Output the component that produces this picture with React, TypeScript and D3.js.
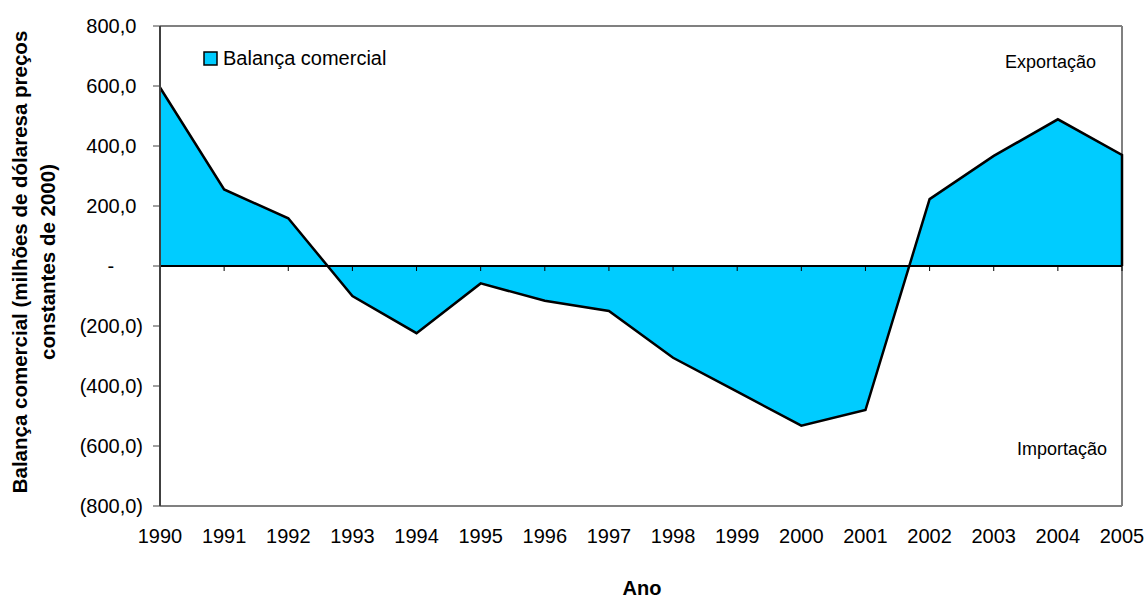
import React from "react";
import * as d3 from "d3";

const years = [1990, 1991, 1992, 1993, 1994, 1995, 1996, 1997, 1998, 1999, 2000, 2001, 2002, 2003, 2004, 2005];
const balance = [595, 255, 159, -100, -224, -58, -116, -150, -306, -419, -532, -480, 223, 367, 489, 370];
const yTicks = [800, 600, 400, 200, 0, -200, -400, -600, -800];
const seriesName = "Balança comercial";
const yTitle1 = "Balança comercial (milhões de dólaresa preços";
const yTitle2 = "constantes de 2000)";
const xTitle = "Ano";
const noteTop = "Exportação";
const noteBottom = "Importação";

const W = 1148, H = 599;
const L = 160, R = 1122, T = 26, B = 506;
const FS = 20;

function fmt(v: number): { s: string; pad: number } {
  if (v === 0) return { s: "-", pad: FS * (0.333 + 2 * 0.556) };
  const s = Math.abs(v).toFixed(1).replace(".", ",");
  return v < 0 ? { s: `(${s})`, pad: 0 } : { s, pad: FS * 0.333 };
}

export default function App() {
  const x = d3.scaleLinear().domain([years[0], years[years.length - 1]]).range([L, R]);
  const y = d3.scaleLinear().domain([-800, 800]).range([B, T]);
  const pts = years.map((yr, i) => [yr, balance[i]] as [number, number]);
  const area = d3.area<[number, number]>().x(d => x(d[0])).y0(y(0)).y1(d => y(d[1]))(pts) || "";
  const line = d3.line<[number, number]>().x(d => x(d[0])).y(d => y(d[1]))(pts) || "";
  const font = "Arial, 'Liberation Sans', sans-serif";
  const y0 = y(0);
  return (
    <svg width={W} height={H} style={{ position: "absolute", left: 0, top: 0 }} fontFamily={font}>
      <rect x={0} y={0} width={W} height={H} fill="#fff" />
      <line x1={L} y1={T} x2={R} y2={T} stroke="#808080" strokeWidth={2} />
      <line x1={R} y1={T} x2={R} y2={B} stroke="#808080" strokeWidth={2} />
      <line x1={L} y1={B} x2={R} y2={B} stroke="#808080" strokeWidth={2} />
      <path d={area} fill="#00CCFF" />
      <path d={line + `L${x(years[years.length - 1])},${y0}`} fill="none" stroke="#000" strokeWidth={2.5} strokeLinejoin="miter" />
      <line x1={L} y1={y0} x2={R} y2={y0} stroke="#000" strokeWidth={2} />
      {years.map(yr => (
        <line key={yr} x1={x(yr)} y1={y0} x2={x(yr)} y2={y0 + 5} stroke="#000" strokeWidth={1} />
      ))}
      <line x1={L} y1={T} x2={L} y2={B} stroke="#404040" strokeWidth={2} />
      {yTicks.map(v => {
        const f = fmt(v);
        return (
          <g key={v}>
            <line x1={L - 7} y1={y(v)} x2={L} y2={y(v)} stroke="#404040" strokeWidth={1} />
            <text x={143 - f.pad} y={y(v)} dy="0.35em" textAnchor="end" fontSize={FS} fill="#000">{f.s}</text>
          </g>
        );
      })}
      {years.map(yr => (
        <text key={yr} x={x(yr)} y={543} textAnchor="middle" fontSize={FS} fill="#000">{yr}</text>
      ))}
      <text x={642} y={595} textAnchor="middle" fontSize={FS} fontWeight="bold">{xTitle}</text>
      <g transform="translate(27,262) rotate(-90)">
        <text x={0} y={0} textAnchor="middle" fontSize={20.5} fontWeight="bold">{yTitle1}</text>
        <text x={0} y={28} textAnchor="middle" fontSize={20.5} fontWeight="bold">{yTitle2}</text>
      </g>
      <rect x={204} y={52} width={13} height={13} fill="#00CCFF" stroke="#000" strokeWidth={1.5} />
      <text x={223} y={65} fontSize={FS}>{seriesName}</text>
      <text x={1005} y={68} fontSize={18}>{noteTop}</text>
      <text x={1017} y={455} fontSize={18}>{noteBottom}</text>
    </svg>
  );
}
